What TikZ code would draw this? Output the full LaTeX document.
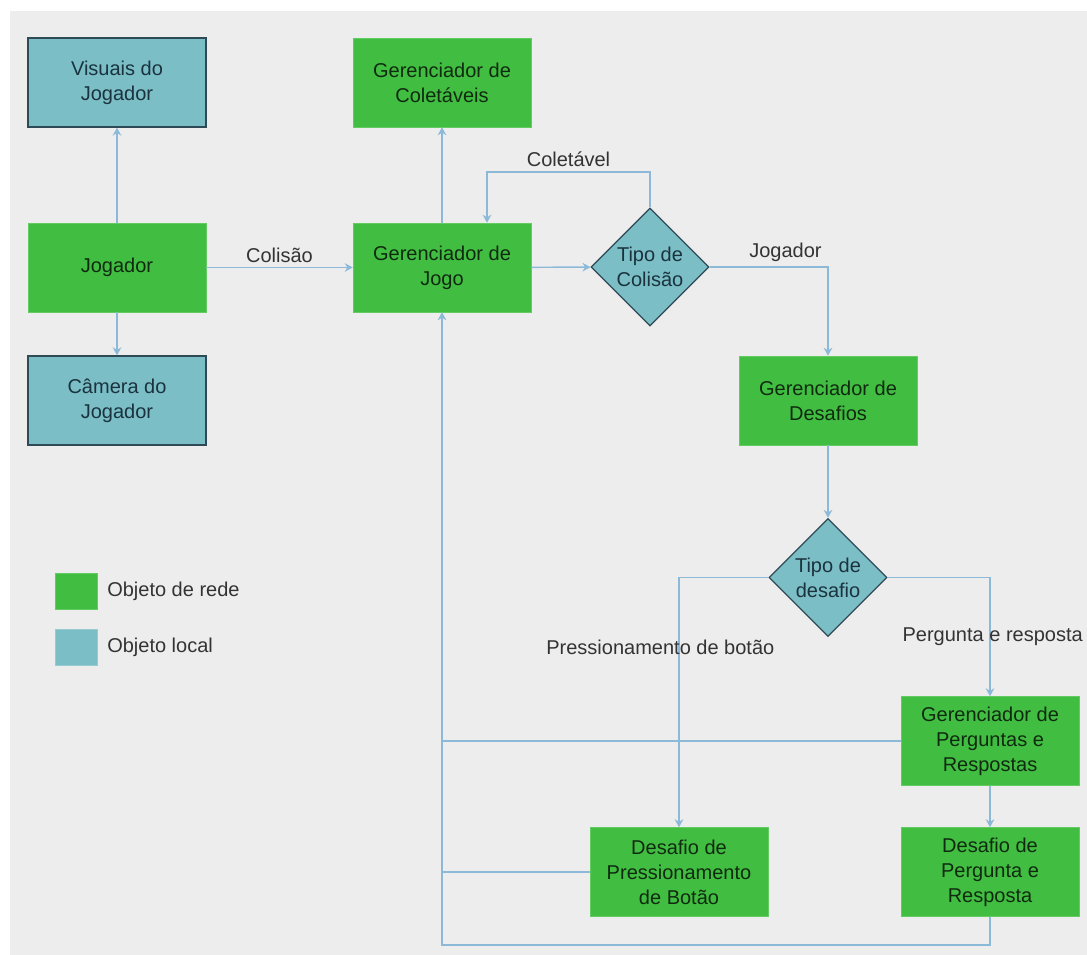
\documentclass[tikz,border=0pt]{standalone}
\usepackage{fontspec}
\setmainfont{Liberation Sans}
\definecolor{mGreen}{HTML}{41BE41}
\definecolor{mGreenLine}{HTML}{62CC62}
\definecolor{mGreenText}{HTML}{102A10}
\definecolor{mTeal}{HTML}{7BBEC6}
\definecolor{mTealLine}{HTML}{2E4A57}
\definecolor{mTealText}{HTML}{1A333E}
\definecolor{mWire}{HTML}{8DB9D9}
\definecolor{mBack}{HTML}{EDEDED}
\definecolor{mLabel}{HTML}{333333}
\usetikzlibrary{arrows.meta, shapes.geometric}
\newcommand{\fsz}{\fontsize{15}{18.75}\selectfont}

\begin{document}
\begin{tikzpicture}[x=0.75pt, y=-0.75pt,
  net/.style={draw=mGreenLine, fill=mGreen, text=mGreenText,
              minimum width=133.5pt, minimum height=66.75pt, font=\fsz,
              align=center},
  loc/.style={draw=mTealLine, line width=1pt, fill=mTeal, text=mTealText,
              minimum width=133.5pt, minimum height=66.75pt, font=\fsz,
              align=center},
  tipo/.style={diamond, aspect=1, draw=mTealLine, line width=1pt,
               fill=mTeal, text=mTealText, minimum width=88.5pt,
               minimum height=88.5pt, inner sep=0pt, font=\fsz,
               align=center},
  lbl/.style={font=\fsz, text=mLabel},
  wire/.style={draw=mWire, line width=1.1pt},
  arr/.style={wire, -{Stealth[length=6pt, width=6.5pt]}}]
  \useasboundingbox (0,0) rectangle (1087,955);
  \fill[mBack] (10,11) rectangle (1087,955);

  \node[loc] (vis)    at (117,82.5)  {Visuais do\\Jogador};
  \node[net] (jog)    at (117,267.5) {Jogador};
  \node[loc] (cam)    at (117,400.5) {Câmera do\\Jogador};
  \node[net] (gcol)   at (442,82.5)  {Gerenciador de\\Coletáveis};
  \node[net] (gjogo)  at (442,267.5) {Gerenciador de\\Jogo};
  \node[tipo] (tcol)  at (650,267)   {Tipo de\\Colisão};
  \node[net] (gdes)   at (828,400.5) {Gerenciador de\\Desafios};
  \node[tipo] (tdes)  at (828,577.5) {Tipo de\\desafio};
  \node[net] (gper)   at (990,741)   {Gerenciador de\\Perguntas e\\Respostas};
  \node[net] (dpress) at (679,872)   {Desafio de\\Pressionamento\\de Botão};
  \node[net] (dpr)    at (990,872)   {Desafio de\\Pergunta e\\Resposta};

  \coordinate (loop) at (487,172);
  \coordinate (bus)  at (442,945);

  \draw[arr] (jog) -- (vis);
  \draw[arr] (jog) -- (cam);
  \draw[arr] (jog) -- node[lbl, above] {Colisão} (gjogo);
  \draw[arr] (gjogo) -- (gcol);
  \draw[arr] (gjogo) -- (tcol);
  \draw[arr] (tcol.north) |- node[lbl, above, pos=0.75] {Coletável} (loop)
    -- (loop |- gjogo.north);
  \draw[arr] (tcol.east) -| node[lbl, above, pos=0.32] {Jogador} (gdes.north);
  \draw[arr] (gdes) -- (tdes);
  \draw[arr] (tdes.west) -| node[lbl, pos=0.64, xshift=-14pt]
    {Pressionamento de botão} (dpress.north);
  \draw[arr] (tdes.east) -| node[lbl, pos=0.75, xshift=2pt]
    {Pergunta e resposta} (gper.north);
  \draw[arr] (gper) -- (dpr);
  \draw[arr] (dpr.south) |- (bus) -- (gjogo.south);
  \draw[wire] (gper.west) -- (gper.west -| bus);
  \draw[wire] (dpress.west) -- (dpress.west -| bus);

  % legenda
  \node[fill=mGreen, draw=mGreenLine, minimum width=31.5pt,
        minimum height=27pt, inner sep=0pt] (legnet) at (76,591) {};
  \node[fill=mTeal, draw=mTeal!80!white, minimum width=31.5pt,
        minimum height=27pt, inner sep=0pt] (legloc) at (76,647) {};
  \node[lbl, anchor=west, inner sep=0pt] (txtnet) at (107,591) {Objeto de rede};
  \node[lbl, anchor=west, inner sep=0pt] (txtloc) at (107,647) {Objeto local};
\end{tikzpicture}
\end{document}
